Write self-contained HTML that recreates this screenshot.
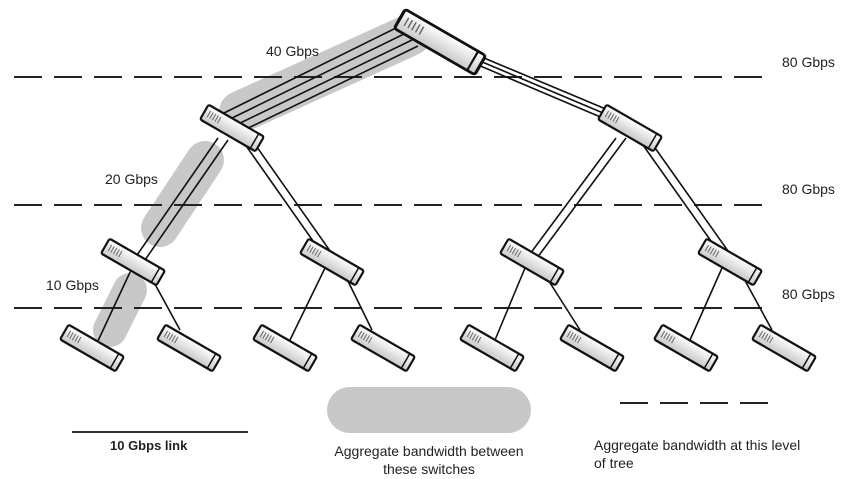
<!DOCTYPE html>
<html><head><style>body{margin:0;background:#fff}svg{display:block}text{font-family:"Liberation Sans",Arial,sans-serif;fill:#222}</style></head><body>
<svg width="862" height="479" viewBox="0 0 862 479" xmlns="http://www.w3.org/2000/svg">
<defs>
<linearGradient id="g" x1="0" y1="0" x2="0" y2="1"><stop offset="0" stop-color="#fff"/><stop offset="1" stop-color="#c8c8c8"/></linearGradient>
<g id="sw"><rect x="-32" y="-8.5" width="64" height="17" fill="url(#g)" stroke="#111" stroke-width="2.2" rx="2"/><line x1="26" y1="-8" x2="26" y2="8" stroke="#111" stroke-width="1.5"/><g stroke="#666" stroke-width="1"><line x1="-27" y1="-4" x2="-27" y2="3"/><line x1="-24" y1="-4" x2="-24" y2="3"/><line x1="-21" y1="-4" x2="-21" y2="3"/><line x1="-18" y1="-4" x2="-18" y2="3"/><line x1="-15" y1="-4" x2="-15" y2="3"/></g></g>
</defs>
<!-- shaded -->
<g stroke="#c8c8c8" stroke-linecap="round" fill="none">
<line x1="240" y1="112" x2="410" y2="35" stroke-width="42"/>
<line x1="205" y1="160" x2="160" y2="228" stroke-width="38"/>
<line x1="130" y1="290" x2="110" y2="330" stroke-width="34"/>
<line x1="350" y1="410" x2="508" y2="410" stroke-width="46"/>
</g>
<!-- dashed -->
<g stroke="#222" stroke-width="2" stroke-dasharray="28,12">
<line x1="14" y1="77" x2="770" y2="77"/>
<line x1="14" y1="205" x2="770" y2="205"/>
<line x1="14" y1="308" x2="770" y2="308"/>
<line x1="620" y1="403" x2="770" y2="403"/>
</g>
<!-- links -->
<g stroke="#111" stroke-width="1.6" fill="none">
<line x1="222" y1="114" x2="400" y2="26"/><line x1="228" y1="120" x2="406" y2="33"/><line x1="234" y1="126" x2="412" y2="40"/><line x1="240" y1="132" x2="418" y2="46"/>
<line x1="465" y1="50" x2="620" y2="115"/><line x1="468" y1="56" x2="622" y2="121"/><line x1="471" y1="62" x2="624" y2="127"/>
<line x1="218" y1="138" x2="135" y2="258"/><line x1="228" y1="140" x2="145" y2="260"/>
<line x1="242" y1="140" x2="325" y2="258"/><line x1="252" y1="140" x2="335" y2="258"/>
<line x1="616" y1="138" x2="527" y2="258"/><line x1="626" y1="138" x2="537" y2="258"/>
<line x1="638" y1="138" x2="723" y2="258"/><line x1="648" y1="138" x2="733" y2="258"/>
<line x1="132" y1="268" x2="97" y2="343"/><line x1="150" y1="275" x2="180" y2="330"/>
<line x1="325" y1="268" x2="290" y2="340"/><line x1="345" y1="275" x2="372" y2="330"/>
<line x1="525" y1="268" x2="495" y2="340"/><line x1="545" y1="275" x2="580" y2="330"/>
<line x1="722" y1="268" x2="690" y2="340"/><line x1="742" y1="275" x2="772" y2="330"/>
</g>
<!-- switches -->
<g transform="translate(440,42) rotate(30) scale(1.45,1.3)"><use href="#sw"/></g>
<g transform="translate(232,128) rotate(30)"><use href="#sw"/></g>
<g transform="translate(630,128) rotate(30)"><use href="#sw"/></g>
<g transform="translate(133,262) rotate(30)"><use href="#sw"/></g>
<g transform="translate(332,262) rotate(30)"><use href="#sw"/></g>
<g transform="translate(532,262) rotate(30)"><use href="#sw"/></g>
<g transform="translate(730,262) rotate(30)"><use href="#sw"/></g>
<g transform="translate(92,348) rotate(30)"><use href="#sw"/></g>
<g transform="translate(189,348) rotate(30)"><use href="#sw"/></g>
<g transform="translate(285,348) rotate(30)"><use href="#sw"/></g>
<g transform="translate(383,348) rotate(30)"><use href="#sw"/></g>
<g transform="translate(492,348) rotate(30)"><use href="#sw"/></g>
<g transform="translate(592,348) rotate(30)"><use href="#sw"/></g>
<g transform="translate(686,348) rotate(30)"><use href="#sw"/></g>
<g transform="translate(784,348) rotate(30)"><use href="#sw"/></g>
<!-- labels -->
<g font-size="14">
<text x="266" y="56">40 Gbps</text>
<text x="105" y="184">20 Gbps</text>
<text x="46" y="290">10 Gbps</text>
<text x="782" y="67">80 Gbps</text>
<text x="782" y="194">80 Gbps</text>
<text x="782" y="299">80 Gbps</text>
<text x="429" y="456" text-anchor="middle">Aggregate bandwidth between</text>
<text x="429" y="474" text-anchor="middle">these switches</text>
<text x="594" y="450">Aggregate bandwidth at this level</text>
<text x="594" y="468">of tree</text>
<text x="110" y="450" font-weight="bold" font-size="13">10 Gbps link</text>
</g>
<line x1="72" y1="432" x2="248" y2="432" stroke="#111" stroke-width="1.8"/>
</svg>
</body></html>
